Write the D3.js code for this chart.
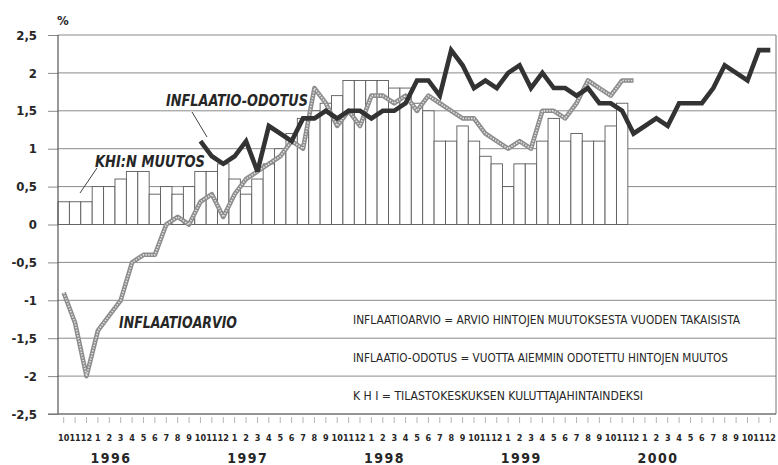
<!DOCTYPE html>
<html lang="fi">
<head>
<meta charset="utf-8">
<title>Inflaatioarvio ja -odotus</title>
<script src="https://cdn.jsdelivr.net/npm/d3@7/dist/d3.min.js"></script>
<style>
  body { margin: 0; background: #fff; }
  svg text { font-family: "DejaVu Sans Condensed", "DejaVu Sans", sans-serif; fill: #262626; }
</style>
</head>
<body>
<script>
// months from 10/1995 to 12/2000
var monthLabels = ["10","11","12",
  "1","2","3","4","5","6","7","8","9","10","11","12",
  "1","2","3","4","5","6","7","8","9","10","11","12",
  "1","2","3","4","5","6","7","8","9","10","11","12",
  "1","2","3","4","5","6","7","8","9","10","11","12",
  "1","2","3","4","5","6","7","8","9","10","11","12"];
var years = ["1996","1997","1998","1999","2000"];
var yTicks = [2.5, 2, 1.5, 1, 0.5, 0, -0.5, -1, -1.5, -2, -2.5];

// KHI:n muutos (bars), starts 10/1995
var khiStart = 0;
var khiMuutos = [0.3,0.3,0.3,0.5,0.5,0.6,0.7,0.7,0.4,0.5,0.4,0.5,
  0.7,0.7,0.8,0.6,0.4,0.6,0.8,1.0,1.2,1.4,1.5,1.6,
  1.7,1.9,1.9,1.9,1.9,1.8,1.8,1.6,1.5,1.1,1.1,1.3,
  1.1,0.9,0.8,0.5,0.8,0.8,1.1,1.4,1.1,1.2,1.1,1.1,
  1.3,1.6];

// inflaatioarvio (grey line), starts 10/1995
var arvioStart = 0;
var inflaatioarvio = [-0.9,-1.3,-2.0,-1.4,-1.2,-1.0,-0.5,-0.4,-0.4,0.0,0.1,0.0,
  0.3,0.4,0.1,0.4,0.6,0.7,0.8,0.9,1.1,1.0,1.8,1.6,
  1.3,1.5,1.3,1.7,1.7,1.6,1.7,1.5,1.7,1.6,1.5,1.4,
  1.4,1.2,1.1,1.0,1.1,1.0,1.5,1.5,1.4,1.6,1.9,1.8,
  1.7,1.9,1.9];

// inflaatio-odotus (black line), starts 10/1996
var odotusStart = 12;
var inflaatioOdotus = [1.1,0.9,0.8,0.9,1.1,0.7,1.3,1.2,1.1,1.4,1.4,1.5,
  1.4,1.5,1.5,1.4,1.5,1.5,1.6,1.9,1.9,1.7,2.3,2.1,
  1.8,1.9,1.8,2.0,2.1,1.8,2.0,1.8,1.8,1.7,1.8,1.6,
  1.6,1.5,1.2,1.3,1.4,1.3,1.6,1.6,1.6,1.8,2.1,2.0,
  1.9,2.3,2.3];

var w = 778, h = 465;
var svg = d3.select("body").append("svg")
    .attr("width", w)
    .attr("height", h);

var x = d3.scaleBand().domain(d3.range(monthLabels.length)).range([58, 776]);
var y = d3.scaleLinear().domain([-2.5, 2.5]).range([414, 35]);
var bw = x.bandwidth();
function cx(i) { return x(i) + bw / 2; }

// horizontal grid
svg.append("g").selectAll("line")
    .data(yTicks)
  .enter().append("line")
    .attr("x1", 58).attr("x2", 776)
    .attr("y1", function(d) { return y(d); })
    .attr("y2", function(d) { return y(d); })
    .attr("stroke", "#8a8a8a")
    .attr("stroke-width", 1);

// y axis
var yAxis = svg.append("g")
    .attr("transform", "translate(58,0)")
    .call(d3.axisLeft(y).tickValues(yTicks).tickSize(10).tickPadding(11)
      .tickFormat(function(d) { return String(d).replace(".", ","); }));
yAxis.select(".domain").remove();
yAxis.selectAll("line").attr("stroke", "#8a8a8a");
yAxis.selectAll("text")
    .attr("font-size", 13)
    .attr("font-weight", "bold")
    .attr("font-family", null)
    .attr("fill", null);

svg.append("text")
    .attr("x", 57).attr("y", 25)
    .attr("font-size", 13).attr("font-weight", "bold")
    .text("%");

// KHI bars
svg.append("g").selectAll("rect")
    .data(khiMuutos)
  .enter().append("rect")
    .attr("x", function(d, i) { return x(i + khiStart); })
    .attr("width", bw)
    .attr("y", function(d) { return y(d); })
    .attr("height", function(d) { return y(0) - y(d); })
    .attr("fill", "#fff")
    .attr("stroke", "#5a5a5a")
    .attr("stroke-width", 0.9);

// frame sides
svg.append("line").attr("x1", 58).attr("x2", 58).attr("y1", y(2.5)).attr("y2", y(-2.5))
    .attr("stroke", "#555").attr("stroke-width", 1.2);
svg.append("line").attr("x1", 776).attr("x2", 776).attr("y1", y(2.5)).attr("y2", y(-2.5))
    .attr("stroke", "#777").attr("stroke-width", 1);
svg.append("line").attr("x1", 48).attr("x2", 776).attr("y1", y(-2.5)).attr("y2", y(-2.5))
    .attr("stroke", "#666").attr("stroke-width", 1.2);

// grey line (inflaatioarvio)
var arvioLine = d3.line()
    .x(function(d, i) { return cx(i + arvioStart); })
    .y(function(d) { return y(d); });
svg.append("path")
    .datum(inflaatioarvio)
    .attr("d", arvioLine)
    .attr("fill", "none")
    .attr("stroke", "#8c8c8c")
    .attr("stroke-width", 4.6)
    .attr("stroke-linejoin", "round");
svg.append("path")
    .datum(inflaatioarvio)
    .attr("d", arvioLine)
    .attr("fill", "none")
    .attr("stroke", "#e2e2e2")
    .attr("stroke-width", 1.7)
    .attr("stroke-dasharray", "1.4,1.4")
    .attr("stroke-linejoin", "round");

// black line (inflaatio-odotus)
var odotusLine = d3.line()
    .x(function(d, i) { return cx(i + odotusStart); })
    .y(function(d) { return y(d); });
svg.append("path")
    .datum(inflaatioOdotus)
    .attr("d", odotusLine)
    .attr("fill", "none")
    .attr("stroke", "#333")
    .attr("stroke-width", 4.6)
    .attr("stroke-linejoin", "miter")
    .attr("stroke-miterlimit", 3);

// x axis with month labels
var xAxis = svg.append("g")
    .attr("transform", "translate(0,417)")
    .call(d3.axisBottom(x).tickSize(6).tickPadding(12)
      .tickFormat(function(d) { return monthLabels[d]; }));
xAxis.select(".domain").remove();
xAxis.selectAll("line").attr("stroke", "#b5b5b5");
xAxis.selectAll("text")
    .attr("font-size", 9)
    .attr("font-weight", "bold")
    .attr("font-family", null)
    .attr("fill", null);

// years
svg.append("g").selectAll("text")
    .data(years)
  .enter().append("text")
    .attr("x", function(d, k) { return x(3 + 12 * k) + bw * 1.65; })
    .attr("y", 463)
    .attr("text-anchor", "middle")
    .attr("font-size", 14)
    .attr("font-weight", "bold")
    .attr("letter-spacing", 1.5)
    .text(function(d) { return d; });

// series labels
function label(txt, tx, ty, len) {
  svg.append("text")
      .attr("x", tx).attr("y", ty)
      .attr("font-size", 15)
      .attr("font-weight", "bold")
      .attr("font-style", "italic")
      .attr("textLength", len)
      .attr("lengthAdjust", "spacingAndGlyphs")
      .text(txt);
}
label("INFLAATIO-ODOTUS", 166, 106, 142);
label("KHI:N MUUTOS", 95, 167, 110);
label("INFLAATIOARVIO", 119, 328, 118);

svg.append("line").attr("x1", 192).attr("y1", 112).attr("x2", 207).attr("y2", 137)
    .attr("stroke", "#444").attr("stroke-width", 1);
svg.append("line").attr("x1", 97).attr("y1", 168).attr("x2", 80).attr("y2", 193)
    .attr("stroke", "#444").attr("stroke-width", 1);

// definitions
var defs = [
  ["INFLAATIOARVIO = ARVIO HINTOJEN MUUTOKSESTA VUODEN TAKAISISTA", 387],
  ["INFLAATIO-ODOTUS = VUOTTA AIEMMIN ODOTETTU HINTOJEN MUUTOS", 375],
  ["K H I = TILASTOKESKUKSEN KULUTTAJAHINTAINDEKSI", 290]
];
svg.append("g").selectAll("text")
    .data(defs)
  .enter().append("text")
    .attr("x", 353)
    .attr("y", function(d, i) { return (y(-1 - 0.5 * i) + y(-1.5 - 0.5 * i)) / 2 + 4.5; })
    .attr("font-size", 12)
    .attr("textLength", function(d) { return d[1]; })
    .attr("lengthAdjust", "spacingAndGlyphs")
    .text(function(d) { return d[0]; });
</script>
</body>
</html>
